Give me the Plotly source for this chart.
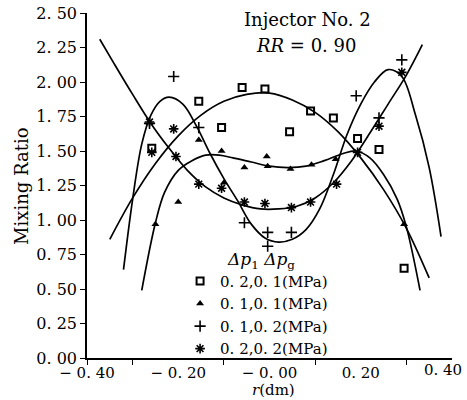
import plotly.graph_objects as go

# ---- fitted curves ----
sq_curve_r = [-0.35, -0.30, -0.25, -0.20, -0.15, -0.10, -0.05, 0.00, 0.05, 0.10, 0.15, 0.20, 0.25, 0.30, 0.35]
sq_curve_v = [0.86, 1.16, 1.41, 1.61, 1.76, 1.86, 1.91, 1.92, 1.87, 1.78, 1.64, 1.45, 1.22, 0.94, 0.58]

tri_curve_r = [-0.28, -0.25, -0.23, -0.20, -0.17, -0.14, -0.11, -0.08, -0.04, 0.00, 0.04, 0.08, 0.12, 0.16, 0.19, 0.22, 0.25, 0.28, 0.30, 0.33]
tri_curve_v = [0.49, 0.98, 1.20, 1.36, 1.43, 1.47, 1.47, 1.45, 1.42, 1.39, 1.38, 1.39, 1.43, 1.48, 1.50, 1.45, 1.33, 1.15, 0.95, 0.49]

plus_curve_r = [-0.32, -0.30, -0.28, -0.26, -0.24, -0.22, -0.19, -0.16, -0.13, -0.10, -0.07, -0.04, -0.01, 0.02, 0.05, 0.08, 0.11, 0.14, 0.17, 0.20, 0.23, 0.26, 0.29, 0.32, 0.35, 0.376]
plus_curve_v = [0.64, 1.15, 1.55, 1.76, 1.86, 1.89, 1.84, 1.68, 1.48, 1.30, 1.14, 0.97, 0.87, 0.84, 0.86, 0.93, 1.08, 1.33, 1.62, 1.84, 2.00, 2.09, 2.04, 1.76, 1.38, 0.88]

star_curve_r = [-0.372, -0.34, -0.30, -0.26, -0.22, -0.18, -0.14, -0.10, -0.06, -0.02, 0.02, 0.06, 0.10, 0.14, 0.18, 0.22, 0.26, 0.30, 0.335]
star_curve_v = [2.31, 2.13, 1.91, 1.70, 1.52, 1.36, 1.24, 1.16, 1.11, 1.08, 1.08, 1.10, 1.16, 1.27, 1.43, 1.63, 1.84, 2.05, 2.27]

# ---- measured points ----
sq_r = [-0.258, -0.155, -0.105, -0.06, -0.01, 0.044, 0.09, 0.14, 0.193, 0.24, 0.295]
sq_v = [1.52, 1.86, 1.67, 1.96, 1.95, 1.64, 1.79, 1.74, 1.59, 1.51, 0.65]

tri_r = [-0.25, -0.20, -0.155, -0.105, -0.10, -0.055, -0.006, -0.004, 0.046, 0.092, 0.145, 0.295]
tri_v = [0.97, 1.13, 1.58, 1.50, 1.27, 1.38, 1.46, 1.39, 1.37, 1.40, 1.44, 0.97]

plus_r = [-0.263, -0.21, -0.155, -0.055, -0.004, -0.004, 0.048, 0.19, 0.24, 0.29]
plus_v = [1.70, 2.04, 1.67, 0.98, 0.91, 0.81, 0.91, 1.90, 1.74, 2.16]

star_r = [-0.263, -0.258, -0.21, -0.205, -0.155, -0.105, -0.055, -0.01, 0.048, 0.09, 0.147, 0.193, 0.24, 0.29]
star_v = [1.71, 1.49, 1.66, 1.46, 1.26, 1.23, 1.13, 1.12, 1.09, 1.13, 1.26, 1.49, 1.68, 2.07]

legend_names = ["0. 2,0. 1(MPa)", "0. 1,0. 1(MPa)", "0. 1,0. 2(MPa)", "0. 2,0. 2(MPa)"]

y_ticks = [0, 0.25, 0.5, 0.75, 1.0, 1.25, 1.5, 1.75, 2.0, 2.25, 2.5]
y_ticktext = ["0. 00", "0. 25", "0. 50", "0. 75", "1. 00", "1. 25", "1. 50", "1. 75", "2. 00", "2. 25", "2. 50"]
x_ticks = [-0.4, -0.2, 0.0, 0.2]
x_ticktext = ["\u2212 0. 40", "\u2212 0. 20", "\u2212 0. 00", "0. 20"]
x_last_tick = 0.4
x_last_text = "0. 40"
x_minor = [-0.4, -0.3, -0.1, 0.1, 0.3]

FONT = "DejaVu Serif"
fig = go.Figure()

for cr, cv in [(sq_curve_r, sq_curve_v), (tri_curve_r, tri_curve_v),
               (plus_curve_r, plus_curve_v), (star_curve_r, star_curve_v)]:
    fig.add_trace(go.Scatter(x=cr, y=cv, mode="lines", showlegend=False, hoverinfo="skip",
                             line=dict(color="black", width=1.7, shape="spline", smoothing=1.0)))

fig.add_trace(go.Scatter(x=sq_r, y=sq_v, mode="markers", name=legend_names[0],
                         marker=dict(symbol="square-open", size=7, color="black", line=dict(width=2, color="black"))))
fig.add_trace(go.Scatter(x=tri_r, y=tri_v, mode="markers", name=legend_names[1],
                         marker=dict(symbol="triangle-up", size=7, color="black")))
fig.add_trace(go.Scatter(x=plus_r, y=plus_v, mode="markers", name=legend_names[2],
                         marker=dict(symbol="cross-thin-open", size=8, color="black", line=dict(width=1.6, color="black"))))
fig.add_trace(go.Scatter(x=star_r, y=star_v, mode="markers", name=legend_names[3],
                         marker=dict(symbol="asterisk-open", size=8, color="black", line=dict(width=1.6, color="black"))))

fig.update_layout(
    width=467, height=400,
    margin=dict(l=87, r=15, t=13, b=42, autoexpand=False),
    paper_bgcolor="white", plot_bgcolor="white",
    font=dict(family=FONT, size=16, color="black"),
    showlegend=True,
    legend=dict(x=0.255, y=0.27, xanchor="left", yanchor="top", bgcolor="rgba(0,0,0,0)",
                font=dict(family=FONT, size=15, color="black"), itemwidth=30, tracegroupgap=0),
    xaxis=dict(range=[-0.4, 0.4], tickmode="array", tickvals=x_ticks, ticktext=x_ticktext,
               ticks="", showline=True, linecolor="black", linewidth=1.5, showgrid=False, zeroline=False,
               tickfont=dict(family=FONT, size=15), automargin=False,
               minor=dict(tickmode="array", tickvals=x_minor, ticks="outside", ticklen=5,
                          tickcolor="black", tickwidth=1.3, showgrid=False)),
    yaxis=dict(range=[0, 2.5], tickmode="array", tickvals=y_ticks, ticktext=y_ticktext,
               ticks="outside", ticklen=5, tickcolor="black", tickwidth=1.3, automargin=False,
               showline=True, linecolor="black", linewidth=1.5, showgrid=False, zeroline=False,
               tickfont=dict(family=FONT, size=16)),
    annotations=[
        dict(text=x_last_text, x=x_last_tick, y=0, xref="x", yref="y", xanchor="right", yanchor="middle",
             xshift=12, yshift=-12, showarrow=False, font=dict(size=15)),
        dict(text="Injector No. 2", x=0.605, y=0.98, xref="paper", yref="paper",
             xanchor="center", yanchor="middle", showarrow=False, font=dict(size=18)),
        dict(text="<i>RR</i> = 0. 90", x=0.60, y=0.905, xref="paper", yref="paper",
             xanchor="center", yanchor="middle", showarrow=False, font=dict(size=18)),
        dict(text="<i>\u0394p</i><sub>1</sub> <i>\u0394p</i><sub>g</sub>", x=0.477, y=0.284,
             xref="paper", yref="paper", xanchor="center", yanchor="middle", showarrow=False,
             font=dict(size=17)),
        dict(text="Mixing Ratio", x=-0.178, y=0.496, xref="paper", yref="paper", textangle=-90,
             xanchor="center", yanchor="middle", showarrow=False, font=dict(size=18)),
        dict(text="<i>r</i>(dm)", x=0.51, y=-0.0925, xref="paper", yref="paper",
             xanchor="center", yanchor="middle", showarrow=False, font=dict(size=15)),
    ],
)

fig.write_html("out.html", config={"displayModeBar": False},
               post_script="document.body.style.margin='0';document.body.style.overflow='hidden';")
